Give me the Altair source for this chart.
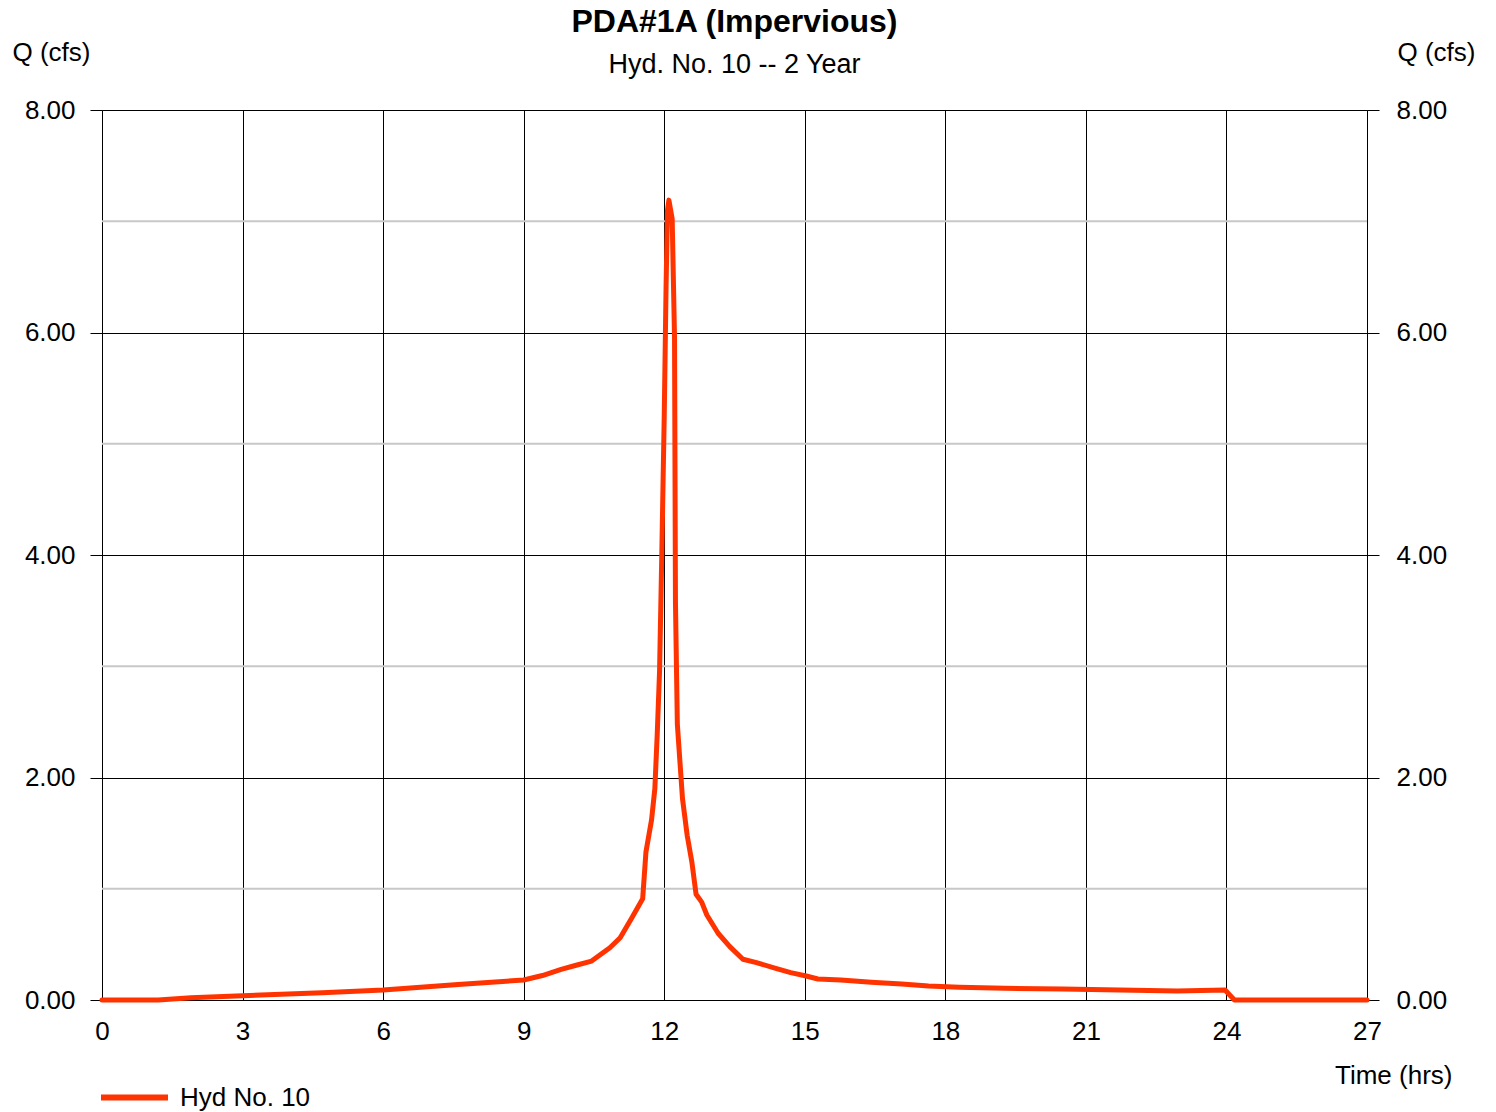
import altair as alt
import pandas as pd

time_hrs = [0.0, 1.2, 1.9, 3.0, 4.7, 6.0, 7.6, 9.0, 9.4, 9.8, 10.1, 10.45, 10.84, 11.06,
            11.31, 11.54, 11.61, 11.73, 11.80, 11.85, 11.90, 11.95, 12.00, 12.04, 12.07,
            12.10, 12.17, 12.22, 12.24, 12.28, 12.39, 12.49, 12.59, 12.68, 12.80, 12.91,
            13.15, 13.40, 13.68, 13.97, 14.38, 14.70, 15.03, 15.28, 15.77, 16.42, 17.07,
            17.64, 18.30, 19.27, 20.50, 21.72, 22.95, 23.97, 24.17, 27.0]
flow_cfs = [0.0, 0.0, 0.021, 0.039, 0.066, 0.09, 0.14, 0.18, 0.22, 0.276, 0.31, 0.35, 0.47, 0.56,
            0.74, 0.91, 1.33, 1.62, 1.90, 2.38, 2.95, 4.05, 5.24, 6.43, 7.10,
            7.19, 7.02, 5.95, 3.57, 2.48, 1.81, 1.48, 1.24, 0.95, 0.88, 0.764,
            0.60, 0.48, 0.366, 0.336, 0.285, 0.246, 0.216, 0.189, 0.18, 0.159, 0.144,
            0.126, 0.114, 0.105, 0.099, 0.09, 0.081, 0.09, 0.0, 0.0]
series_name = ["Hyd No. 10"]
minor_q = [1, 3, 5, 7]
y_ticks = [0, 2, 4, 6, 8]
x_ticks = [0, 3, 6, 9, 12, 15, 18, 21, 24, 27]

df = pd.DataFrame({"t": time_hrs, "q": flow_cfs, "series": series_name * len(time_hrs)})
minor_df = pd.DataFrame({"q": minor_q})

FONT = "Liberation Sans"
FS = 26
LINE_COLOR = "#FF3300"

xscale = alt.Scale(domain=[0, 27], nice=False, zero=False)
yscale = alt.Scale(domain=[0, 8], nice=False)

x_axis = alt.Axis(
    values=x_ticks, grid=True, gridColor="black", gridWidth=1, gridOpacity=1,
    ticks=False, tickSize=0, domainColor="black", domainWidth=1,
    labelFont=FONT, labelFontSize=FS, labelColor="black", labelPadding=18,
    labelFlush=False, labelOverlap=False, labelBound=False,
    title="Time (hrs)", titleFont=FONT, titleFontSize=FS, titleFontWeight="normal",
    titleColor="black", titleAlign="right", titleBaseline="alphabetic",
    titleX=1350, titleY=83,
)

left_axis = alt.Axis(
    orient="left", values=y_ticks, format=".2f", grid=True, gridColor="black",
    gridWidth=1, gridOpacity=1, tickSize=12, tickColor="black", domainColor="black",
    labelFont=FONT, labelFontSize=FS, labelColor="black", labelPadding=15,
    title="Q (cfs)", titleFont=FONT, titleFontSize=FS, titleFontWeight="normal",
    titleColor="black", titleAngle=0, titleAlign="left", titleBaseline="alphabetic",
    titleX=-90, titleY=-50,
)

right_axis = alt.Axis(
    orient="right", values=y_ticks, format=".2f", grid=False, tickSize=12,
    tickColor="black", domainColor="black",
    labelFont=FONT, labelFontSize=FS, labelColor="black", labelPadding=17,
    title="Q (cfs)", titleFont=FONT, titleFontSize=FS, titleFontWeight="normal",
    titleColor="black", titleAngle=0, titleAlign="left", titleBaseline="alphabetic",
    titleX=30, titleY=-50,
)

minor = alt.Chart(minor_df).mark_rule(color="#c8c8c8", strokeWidth=2).encode(
    y=alt.Y("q:Q", scale=yscale, axis=None)
)

right_layer = alt.Chart(df).mark_line(opacity=0).encode(
    x=alt.X("t:Q", scale=xscale, axis=x_axis),
    y=alt.Y("q:Q", scale=yscale, axis=right_axis),
)

line = alt.Chart(df).mark_line(strokeWidth=5, strokeJoin="round", strokeCap="round").encode(
    x=alt.X("t:Q", scale=xscale, axis=x_axis),
    y=alt.Y("q:Q", scale=yscale, axis=left_axis),
    color=alt.Color(
        "series:N",
        scale=alt.Scale(domain=series_name, range=[LINE_COLOR]),
        legend=alt.Legend(
            title=None, orient="none", legendX=-4, legendY=951, padding=0,
            symbolType="stroke", symbolSize=4489, symbolStrokeWidth=6,
            labelFont=FONT, labelFontSize=FS, labelColor="black", labelOffset=9,
        ),
    ),
)

chart = (
    alt.layer(minor, right_layer, line)
    .resolve_scale(y="independent")
    .properties(
        width=1265, height=890,
        autosize=alt.AutoSizeParams(type="none"),
        padding={"left": 102, "top": 110, "right": 129, "bottom": 112},
        title=alt.TitleParams(
            text="PDA#1A (Impervious)", subtitle="Hyd. No. 10 -- 2 Year",
            font=FONT, fontSize=32, fontWeight="bold", color="black",
            subtitleFont=FONT, subtitleFontSize=27, subtitleColor="black",
            subtitlePadding=13, anchor="middle", frame="group", offset=-40,
        ),
    )
    .configure_view(stroke="black", strokeWidth=1)
    .configure(background="white")
)

chart.save("out.html", embed_options={"renderer": "svg", "actions": False})
